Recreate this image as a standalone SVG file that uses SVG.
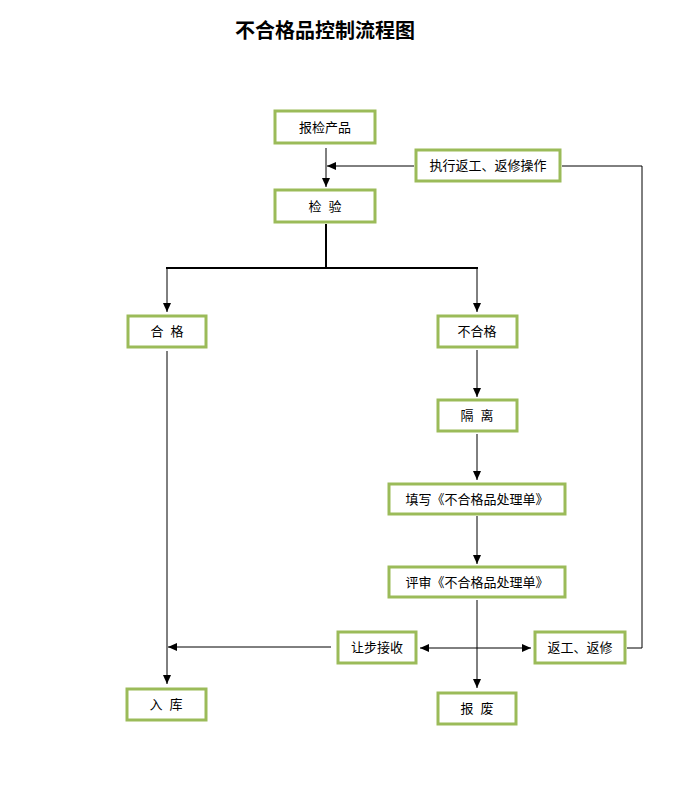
<svg xmlns="http://www.w3.org/2000/svg" width="694" height="793" viewBox="0 0 694 793">
<style>
.box{fill:#fff;stroke:#9bbb59;stroke-width:3}
.t{font-family:"Liberation Sans","Noto Sans CJK SC",sans-serif;font-size:13px;fill:#000;text-anchor:middle}
.title{font-family:"Liberation Sans","Noto Sans CJK SC",sans-serif;font-size:20px;font-weight:bold;fill:#000;text-anchor:middle}
.ln{fill:none;stroke:#000;stroke-width:1}
.th{fill:none;stroke:#000;stroke-width:2}
</style>
<defs>
<marker id="ah" markerUnits="userSpaceOnUse" markerWidth="10" markerHeight="10" refX="9" refY="5" orient="auto">
<path d="M0,1 L9,5 L0,9 Z" fill="#000"/>
</marker>
<marker id="as" markerUnits="userSpaceOnUse" markerWidth="10" markerHeight="10" refX="1" refY="5" orient="auto">
<path d="M10,1 L1,5 L10,9 Z" fill="#000"/>
</marker>
</defs>
<text class="title" x="325" y="38">不合格品控制流程图</text>
<g id="connectors">
<path class="ln" d="M326,148 V187" marker-end="url(#ah)"/>
<path class="ln" d="M414,166 H327" marker-end="url(#ah)"/>
<path class="ln" d="M562,166 H642 V648 H627"/>
<path class="th" d="M326,224 V268"/>
<path class="th" d="M166,268 H478"/>
<path class="ln" d="M167,268 V312" marker-end="url(#ah)"/>
<path class="ln" d="M477,268 V312" marker-end="url(#ah)"/>
<path class="ln" d="M167,351 V684" marker-end="url(#ah)"/>
<path class="ln" d="M477,350 V397" marker-end="url(#ah)"/>
<path class="ln" d="M477,434 V480" marker-end="url(#ah)"/>
<path class="ln" d="M477,516 V564" marker-end="url(#ah)"/>
<path class="ln" d="M477,600 V688" marker-end="url(#ah)"/>
<path class="ln" d="M331,647 H168" marker-end="url(#ah)"/>
<path class="ln" d="M420,648 H531" marker-start="url(#as)" marker-end="url(#ah)"/>
</g>
<g id="n1"><rect class="box" x="275" y="111" width="100" height="32"/><text class="t" x="325" y="132">报检产品</text></g>
<g id="n2"><rect class="box" x="416" y="150" width="144" height="31"/><text class="t" x="488" y="170">执行返工、返修操作</text></g>
<g id="n3"><rect class="box" x="275" y="190" width="100" height="32"/><text class="t" x="325" y="211">检&#160;&#160;验</text></g>
<g id="n4"><rect class="box" x="128" y="316" width="78" height="31"/><text class="t" x="167" y="336">合&#160;&#160;格</text></g>
<g id="n5"><rect class="box" x="438" y="316" width="79" height="31"/><text class="t" x="477" y="336">不合格</text></g>
<g id="n6"><rect class="box" x="438" y="400" width="79" height="31"/><text class="t" x="477" y="420">隔&#160;&#160;离</text></g>
<g id="n7"><rect class="box" x="389" y="484" width="176" height="30"/><text class="t" x="477" y="504">填写《不合格品处理单》</text></g>
<g id="n8"><rect class="box" x="389" y="567" width="176" height="30"/><text class="t" x="477" y="587">评审《不合格品处理单》</text></g>
<g id="n9"><rect class="box" x="338" y="632" width="78" height="31"/><text class="t" x="377" y="652">让步接收</text></g>
<g id="n10"><rect class="box" x="535" y="632" width="90" height="31"/><text class="t" x="580" y="652">返工、返修</text></g>
<g id="n11"><rect class="box" x="127" y="689" width="79" height="31"/><text class="t" x="166" y="709">入&#160;&#160;库</text></g>
<g id="n12"><rect class="box" x="438" y="693" width="78" height="31"/><text class="t" x="477" y="713">报&#160;&#160;废</text></g>
</svg>
